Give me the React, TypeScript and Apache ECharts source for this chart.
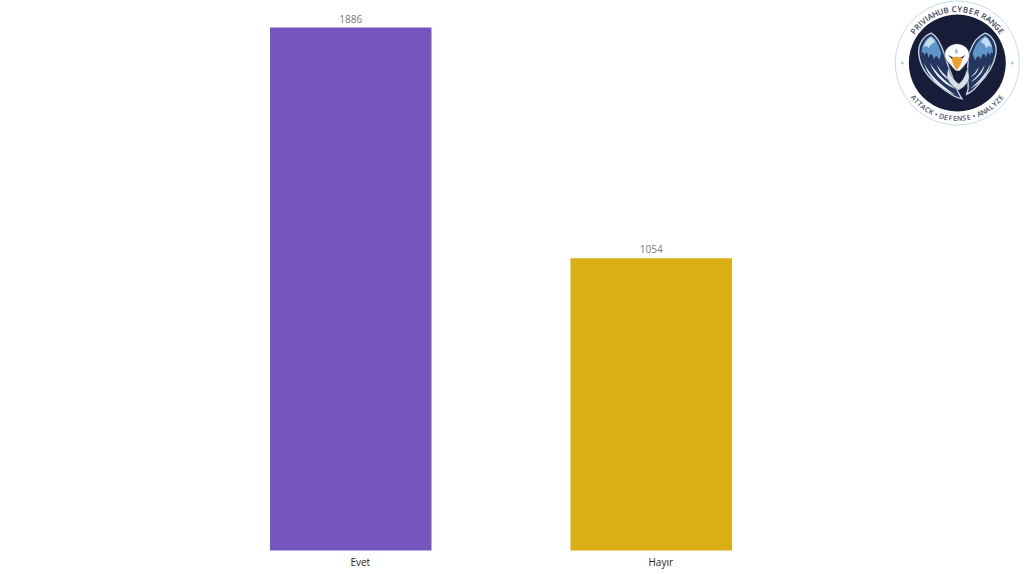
import React, { useEffect, useRef } from "react";
import * as echarts from "echarts";

const categories = ["Evet", "Hayır"];
const values = [1886, 1054];
const barColors = ["#7656BE", "#D9AE16"];
const topBadgeText = "PRIVIAHUB CYBER RANGE";
const bottomBadgeText = "ATTACK • DEFENSE • ANALYZE";

const FONT = "'Open Sans', sans-serif";

// Badge artwork, in a local space where (0,0) is the badge centre and 3 units = 1 px.
const shapes: Record<string, string> = {
  wingL:
    "M-40 -30 C-50 -60 -62 -82 -78 -90 C-102 -82 -118 -56 -116 -28 C-112 14 -84 48 -50 72 C-30 88 -8 104 14 108 C4 92 -4 78 -8 60 C-18 30 -32 0 -40 -30 Z",
  wingR:
    "M36 -30 C46 -60 62 -82 84 -90 C106 -82 120 -56 116 -28 C110 12 84 44 62 66 C52 78 42 88 28 94 C34 80 34 70 32 58 C30 30 30 0 36 -30 Z",
  blueL:
    "M-48 -30 C-56 -56 -66 -74 -78 -82 C-96 -74 -108 -52 -107 -28 C-104 -34 -102 -36 -98 -22 C-94 -36 -90 -36 -86 -14 C-82 -32 -76 -32 -70 -10 C-66 -24 -60 -24 -54 -8 C-52 -16 -50 -22 -48 -30 Z",
  blueR:
    "M46 -30 C54 -56 68 -74 84 -82 C98 -74 108 -52 107 -28 C104 -34 102 -36 98 -22 C94 -36 90 -36 86 -14 C82 -32 76 -32 70 -10 C66 -24 60 -24 54 -8 C50 -14 48 -22 46 -30 Z",
  paleL: "M-66 -64 C-72 -72 -76 -76 -80 -78 C-90 -72 -98 -60 -102 -46 C-94 -54 -90 -52 -86 -44 C-82 -56 -74 -58 -66 -64 Z",
  paleR: "M70 -64 C76 -72 80 -76 84 -78 C94 -72 100 -60 104 -46 C96 -54 92 -52 88 -44 C84 -56 78 -58 70 -64 Z",
  featherL:
    "M-100 0 C-84 34 -50 66 -6 96 C-44 82 -88 46 -100 0 Z M-82 0 C-66 26 -42 50 -4 78 C-38 66 -70 36 -82 0 Z M-62 4 C-50 24 -34 42 -8 60 C-32 52 -54 32 -62 4 Z",
  featherR:
    "M100 0 C88 30 66 54 38 78 C68 62 94 34 100 0 Z M82 6 C72 26 58 42 40 58 C62 46 78 28 82 6 Z M64 12 C58 24 50 34 40 42 C54 36 62 26 64 12 Z",
  tail:
    "M-26 14 C-22 34 -12 50 4 62 C14 56 22 44 30 16 C34 30 38 42 34 52 C28 66 16 76 4 82 C-8 76 -24 62 -30 46 C-32 34 -30 24 -26 14 Z",
  head:
    "M-3 -58 C-22 -56 -36 -44 -38 -28 C-38 -14 -32 -4 -24 2 C-16 10 -10 20 -2 24 L6 24 C14 18 20 10 26 2 C34 -6 38 -16 36 -30 C32 -46 18 -58 -3 -58 Z",
  crest: "M-3 -46 L2 -34 L-3 -26 L-8 -34 Z",
  beak: "M-17 -14 C-8 -20 6 -20 15 -14 C14 0 8 12 -1 21 C-10 12 -16 0 -17 -14 Z",
  eye: "M-28 -24 L-8 -14 L-14 -10 Z M24 -24 L6 -14 L12 -10 Z",
};
Object.keys(shapes).forEach((k) => {
  echarts.graphic.registerShape("badge_" + k, echarts.graphic.extendPath(shapes[k], {}) as any);
});

const CX = 957.3;
const CY = 63;

function badgeShape(name: string, fill: string, stroke?: string, lineWidth = 0) {
  return {
    type: "badge_" + name,
    x: CX,
    y: CY,
    scaleX: 1 / 3,
    scaleY: 1 / 3,
    silent: true,
    style: { fill, stroke, lineWidth },
  };
}

function charWidth(ch: string) {
  if (ch === "I") return 0.45;
  if (ch === " ") return 0.45;
  if (ch === "•") return 0.6;
  return 1;
}

function arcText(text: string, radius: number, spanDeg: number, bottom: boolean, fontSize: number, color: string) {
  const chars = Array.from(text);
  const widths = chars.map(charWidth);
  const total = widths.reduce((s, w) => s + w, 0);
  let run = 0;
  return chars.map((ch, i) => {
    const mid = run + widths[i] / 2;
    run += widths[i];
    const deg = -spanDeg + (2 * spanDeg * mid) / total;
    const a = (deg * Math.PI) / 180;
    return {
      type: "text",
      x: CX + radius * Math.sin(a),
      y: bottom ? CY + radius * Math.cos(a) : CY - radius * Math.cos(a),
      rotation: bottom ? a : -a,
      silent: true,
      style: {
        text: ch,
        fill: color,
        font: `600 ${fontSize}px ${FONT}`,
        align: "center",
        verticalAlign: "middle",
      },
    };
  });
}

function badge() {
  return [
    { type: "circle", silent: true, shape: { cx: CX, cy: CY, r: 62 }, style: { fill: "#ffffff", stroke: "#c4dbea", lineWidth: 1 } },
    { type: "circle", silent: true, shape: { cx: CX, cy: CY, r: 48.5 }, style: { fill: "#171d38" } },
    { type: "circle", silent: true, shape: { cx: CX - 55, cy: CY, r: 1.5 }, style: { fill: "#a9cde6" } },
    { type: "circle", silent: true, shape: { cx: CX + 55, cy: CY, r: 1.5 }, style: { fill: "#a9cde6" } },
    badgeShape("wingL", "#24365f", "#c6d3e0", 4),
    badgeShape("wingR", "#24365f", "#c6d3e0", 4),
    badgeShape("blueL", "#5f95c9"),
    badgeShape("blueR", "#5f95c9"),
    badgeShape("paleL", "#c4dcf0"),
    badgeShape("paleR", "#c4dcf0"),
    badgeShape("featherL", "#e4eaf0"),
    badgeShape("featherR", "#e4eaf0"),
    badgeShape("tail", "#d6dee7", "#171d38", 1),
    badgeShape("head", "#ffffff", "#171d38", 1.5),
    badgeShape("crest", "#9dbfdc"),
    badgeShape("eye", "#171d38"),
    badgeShape("beak", "#e8a030"),
    ...arcText(topBadgeText, 54.5, 57, false, 8, "#3b4256"),
    ...arcText(bottomBadgeText, 55.5, 54, true, 7, "#4a5064"),
  ];
}

export default function App() {
  const ref = useRef<HTMLDivElement>(null);
  useEffect(() => {
    const chart = echarts.init(ref.current!, undefined, { renderer: "svg" });
    chart.setOption({
      animation: false,
      backgroundColor: "#ffffff",
      grid: { left: 200.5, top: 27.5, width: 601, height: 523, containLabel: false },
      xAxis: {
        type: "category",
        data: categories,
        axisLine: { show: false },
        axisTick: { show: false },
        axisLabel: {
          color: "#262626",
          fontFamily: FONT,
          fontSize: 10,
          margin: 6,
          padding: [0, 0, 0, 19],
        },
      },
      yAxis: { type: "value", min: 0, max: 1886, show: false },
      series: [
        {
          type: "bar",
          barWidth: 161.5,
          data: values.map((v, i) => ({ value: v, itemStyle: { color: barColors[i] } })),
          label: {
            show: true,
            position: "top",
            distance: 4,
            color: "#777777",
            fontFamily: FONT,
            fontSize: 10,
          },
        },
      ],
      graphic: { elements: badge() },
    });
    return () => chart.dispose();
  }, []);
  return <div ref={ref} style={{ position: "absolute", left: 0, top: 0, width: 1024, height: 574 }} />;
}
